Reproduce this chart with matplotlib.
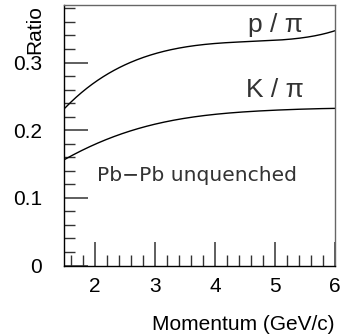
import matplotlib
matplotlib.use("Agg")
import matplotlib.pyplot as plt
from matplotlib.ticker import MultipleLocator
import numpy as np

x_pts = [1.5, 2.0, 2.5, 3.0, 3.5, 4.0, 4.5, 5.0, 5.5, 6.0]
p_pi = [0.233, 0.2715, 0.296, 0.3135, 0.323, 0.328, 0.3306, 0.333, 0.337, 0.347]
k_pi = [0.157, 0.180, 0.195, 0.210, 0.2175, 0.2233, 0.2270, 0.2297, 0.2312, 0.2322]

plt.rcParams['font.family'] = ['Liberation Sans', 'DejaVu Sans']
fig = plt.figure(figsize=(3.41, 3.34), dpi=100)
ax = fig.add_axes([64/341, (334-265.5)/334, (335-64)/341, (265.5-5)/334])

xs = np.linspace(1.5, 6.0, 200)
cp = np.polyfit(x_pts, p_pi, 5)
ck = np.polyfit(x_pts, k_pi, 5)
ax.plot(xs, np.polyval(cp, xs), color='black', lw=1.0)
ax.plot(xs, np.polyval(ck, xs), color='black', lw=1.0)

ax.set_xlim(1.48, 6.0)
ax.set_ylim(0, 0.385)
ax.xaxis.set_major_locator(MultipleLocator(1))
ax.xaxis.set_minor_locator(MultipleLocator(0.2))
ax.yaxis.set_major_locator(MultipleLocator(0.1))
ax.yaxis.set_minor_locator(MultipleLocator(0.02))
ax.set_yticks([0, 0.1, 0.2, 0.3])
ax.set_yticklabels(['0', '0.1', '0.2', '0.3'])
ax.tick_params(which='both', direction='in', top=False, right=False, labelsize=15, color='#333333')
ax.tick_params(which='major', length=17, width=1.1)
ax.tick_params(which='minor', length=8, width=1.0)
ax.tick_params(axis='x', pad=8)
ax.tick_params(axis='y', pad=16)
for s in ['top', 'right']:
    ax.spines[s].set_color('#666666')
for s in ax.spines.values():
    s.set_linewidth(1.0)

ax.text(5.0, 0.355, 'p / \u03c0', fontsize=19, ha='center', va='center', color='#333333')
ax.text(5.0, 0.259, 'K / \u03c0', fontsize=19, ha='center', va='center', color='#333333')
ax.text(3.69, 0.1337, 'Pb\u2212Pb unquenched', fontsize=14.6, ha='center', va='center',
        color='#333333', family='DejaVu Sans')

fig.text(35/341, 1-5/334, 'Ratio', rotation=90, ha='center', va='top', fontsize=15)
fig.text(335/341, 1-325/334, 'Momentum (GeV/c)', ha='right', va='center', fontsize=15)

fig.savefig('out.png', dpi=100)
